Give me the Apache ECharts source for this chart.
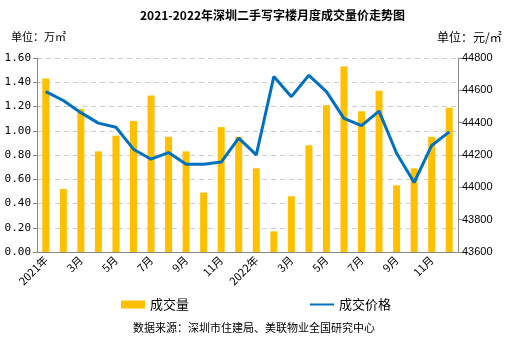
<!DOCTYPE html>
<html><head><meta charset="utf-8">
<script src="https://cdn.jsdelivr.net/npm/echarts@6/dist/echarts.min.js"></script>
<style>html,body{margin:0;padding:0;background:#fff}#c{width:508px;height:342px}</style>
</head><body><div id="c"></div>
<script>
const categories = ['2021年','2月','3月','4月','5月','6月','7月','8月','9月','10月','11月','12月',
  '2022年','2月','3月','4月','5月','6月','7月','8月','9月','10月','11月','12月'];
const volume = [1.43,0.52,1.18,0.83,0.96,1.08,1.29,0.95,0.83,0.49,1.03,0.95,
  0.69,0.17,0.46,0.88,1.21,1.53,1.16,1.33,0.55,0.69,0.95,1.19];
const price = [44592,44537,44462,44397,44372,44236,44174,44215,44143,44143,44156,44304,
  44201,44685,44561,44693,44592,44427,44382,44471,44211,44030,44259,44343];
const leftTicks = {min:0, max:1.6, interval:0.2};
const rightTicks = {min:43600, max:44800, interval:200};

const chart = echarts.init(document.getElementById('c'), null, {renderer:'canvas'});
chart.setOption({
  animation:false,
  backgroundColor:'#fff',
  title:{text:'2021-2022年深圳二手写字楼月度成交量价走势图', left:135, top:4,
    textStyle:{fontSize:12, fontWeight:'bold', color:'#000', fontFamily:'Noto Sans CJK SC'}},
  graphic:[
    {type:'text', left:11, top:31, style:{text:'单位：万㎡', fontSize:11, fill:'#000', fontFamily:'Noto Sans CJK SC'}},
    {type:'text', left:437, top:31, style:{text:'单位：元/㎡', fontSize:12, fill:'#000', fontFamily:'Noto Sans CJK SC'}},
    {type:'text', left:'center', top:322, style:{text:'数据来源：深圳市住建局、美联物业全国研究中心', fontSize:11, fill:'#000', fontFamily:'Noto Sans CJK SC'}}
  ],
  legend:{left:116, top:293, itemGap:120, itemWidth:24, itemHeight:8,
    textStyle:{fontSize:13, color:'#000', fontFamily:'Noto Sans CJK SC'},
    data:[{name:'成交量', icon:'rect'}, {name:'成交价格', itemStyle:{opacity:0}}]},
  grid:{left:37, right:50, top:58, bottom:90, containLabel:false},
  xAxis:{type:'category', data:categories,
    axisLine:{lineStyle:{color:'#888'}}, axisTick:{show:false},
    axisLabel:{interval:1, rotate:45, fontSize:11, color:'#000', margin:6, fontFamily:'Noto Sans CJK SC'}},
  yAxis:[
    {type:'value', min:leftTicks.min, max:leftTicks.max, interval:leftTicks.interval,
     axisLine:{show:true, lineStyle:{color:'#888'}}, axisTick:{show:true, length:4, lineStyle:{color:'#888'}},
     axisLabel:{formatter:v=>v.toFixed(2), fontSize:11, color:'#000', fontFamily:'DejaVu Sans Mono', margin:6},
     splitLine:{lineStyle:{type:[5,4], color:'#ccc'}}},
    {type:'value', min:rightTicks.min, max:rightTicks.max, interval:rightTicks.interval,
     axisLine:{show:true, lineStyle:{color:'#888'}}, axisTick:{show:true, length:4, lineStyle:{color:'#888'}},
     axisLabel:{formatter:v=>String(v), fontSize:11, color:'#000', fontFamily:'Liberation Sans', margin:4},
     splitLine:{show:false}}
  ],
  series:[
    {name:'成交量', type:'bar', data:volume, barWidth:7, itemStyle:{color:'#FFC000'}, yAxisIndex:0},
    {name:'成交价格', type:'line', data:price, yAxisIndex:1, symbol:'none',
     lineStyle:{color:'#0070C0', width:3}, itemStyle:{color:'#0070C0'}}
  ]
});
</script></body></html>
